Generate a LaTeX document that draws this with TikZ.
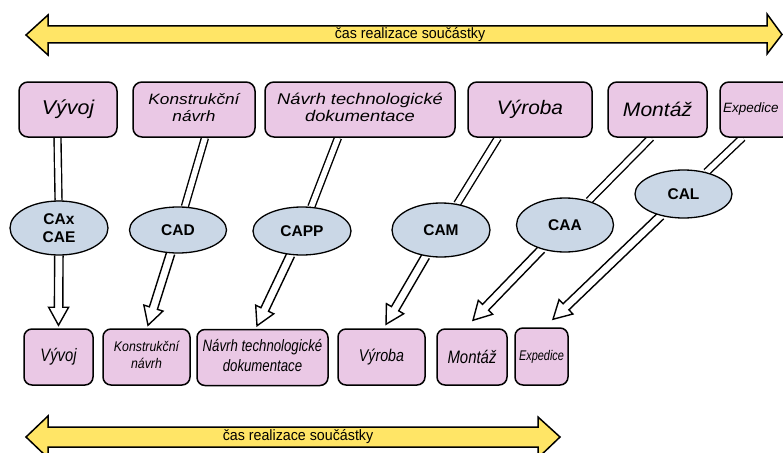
\documentclass[tikz,border=0pt]{standalone}
\usepackage{fontspec}
\setmainfont{Liberation Sans}
\usepackage{graphicx}
\usetikzlibrary{shapes.geometric,calc}
\definecolor{boxpink}{RGB}{234,200,229}
\definecolor{ellblue}{RGB}{202,215,230}
\definecolor{bandyellow}{RGB}{255,229,102}
\pgfdeclarelayer{bg}
\pgfsetlayers{bg,main}
\newcommand\fsz[2]{\fontsize{#1}{#2}\selectfont}
\newcommand\twol[3]{\scalebox{#1}[1]{\begin{tabular}{@{}c@{}}#2\\#3\end{tabular}}}
\newcommand\onel[2]{\scalebox{#1}[1]{#2}}
\newcommand\harrow[2]{%
  \coordinate (hb) at ($(#2)!18pt!(#1)$);
  \draw[conn] ($(#1)!4.2pt!90:(#2)$) -- ($(hb)!4.2pt!90:(#2)$) -- ($(hb)!10pt!90:(#2)$) -- (#2) -- ($(hb)!10pt!-90:(#2)$) -- ($(hb)!4.2pt!-90:(#2)$) -- ($(#1)!4.2pt!-90:(#2)$);}
\tikzset{
  topbox/.style={draw=black, line width=1.5pt, fill=boxpink, rounded corners=9pt, minimum height=55pt, inner sep=0pt, align=center, font=\itshape},
  botbox/.style={draw=black, line width=1.5pt, fill=boxpink, rounded corners=8pt, minimum height=56pt, inner sep=0pt, align=center, font=\itshape},
  ell/.style={ellipse, draw=black, line width=1.3pt, fill=ellblue, inner sep=0pt, align=center, font=\bfseries\fsz{15.5}{18}},
  conn/.style={draw=black, line width=1.4pt, line join=miter},
  dbl/.style={draw=black, line width=1.4pt, double=white, double distance=5.5pt},
  band/.style={draw=black, line width=1.5pt, fill=bandyellow, line join=miter},
  bandtext/.style={inner sep=0pt, font=\fsz{15}{18}}
}
\begin{document}
\begin{tikzpicture}[x=1pt,y=-1pt]
\useasboundingbox (0,0) rectangle (783,452);
% bands
\draw[band] (26,35) -- (48,15) -- (48,26) -- (767,26) -- (767,14) -- (782,34.5) -- (767,54) -- (767,43) -- (48,43) -- (48,55) -- cycle;
\node[bandtext] (bandtop) at (410,35) {\onel{0.95}{čas realizace součástky}};
\draw[band] (26,437) -- (48,416) -- (48,427) -- (538,427) -- (538,417) -- (560,437) -- (538,458) -- (538,447) -- (48,447) -- (48,458) -- cycle;
\node[bandtext] (bandbot) at (298,437) {\onel{0.95}{čas realizace součástky}};
% top boxes
\node[topbox, minimum width=98pt] (t1) at (68,109.5) {\fsz{20}{24}\onel{1.07}{Vývoj}};
\node[topbox, minimum width=122pt] (t2) at (194,109.5) {\fsz{15}{17}\twol{1.15}{Konstrukční}{návrh}};
\node[topbox, minimum width=190pt] (t3) at (360,109.5) {\fsz{15.5}{17}\twol{1.18}{Návrh technologické}{dokumentace}};
\node[topbox, minimum width=124pt] (t4) at (530,109.5) {\fsz{19.5}{24}\onel{1.07}{Výroba}};
\node[topbox, minimum width=99pt] (t5) at (657.5,109.5) {\fsz{19.5}{24}\onel{1.08}{Montáž}};
\node[topbox, minimum width=72pt] (t6) at (756,109.5) {};
\node[inner sep=0pt, font=\itshape\fsz{13.5}{16}, anchor=west] (t6txt) at (723,109.5) {Expedice};
% ellipses
\node[ell, minimum width=98pt, minimum height=54pt] (e1) at (59,228) {CAx\\CAE};
\node[ell, minimum width=97pt, minimum height=46pt] (e2) at (178,230) {CAD};
\node[ell, minimum width=98pt, minimum height=48pt] (e3) at (302,231) {CAPP};
\node[ell, minimum width=98pt, minimum height=54pt] (e4) at (441,230) {CAM};
\node[ell, minimum width=97pt, minimum height=54pt] (e5) at (565,225) {CAA};
\node[ell, minimum width=97pt, minimum height=48pt] (e6) at (683.5,194) {CAL};
% bottom boxes
\node[botbox, minimum width=69pt] (b1) at (58.5,357) {\fsz{18}{20}\onel{0.82}{Vývoj}};
\node[botbox, minimum width=87pt] (b2) at (146.5,357) {\fsz{14}{17}\twol{0.88}{Konstrukční}{návrh}};
\node[botbox, minimum width=131pt] (b3) at (262.5,357.5) {\fsz{16.5}{19.5}\twol{0.8}{Návrh technologické}{dokumentace}};
\node[botbox, minimum width=87pt] (b4) at (381.5,357) {\fsz{17}{20}\onel{0.84}{Výroba}};
\node[botbox, minimum width=70pt] (b5) at (472,357) {\fsz{18}{20}\onel{0.83}{Montáž}};
\node[botbox, minimum width=53pt, minimum height=57pt] (b6) at (541.5,356.5) {\fsz{14}{16}\onel{0.78}{Expedice}};
% connectors
\begin{pgfonlayer}{bg}
\draw[dbl] ([xshift=-10.5pt]t1.south) -- (e1);
\draw[dbl] ([xshift=11pt]t2.south) -- (e2);
\draw[dbl] ([xshift=-22pt]t3.south) -- (e3);
\draw[dbl] ([xshift=-32pt]t4.south) -- (e4);
\draw[dbl] ([xshift=-6.5pt]t5.south) -- (e5);
\draw[dbl] ([xshift=-13.5pt]t6.south) -- (e6);
\coordinate (u1) at ([yshift=3pt]b1.north);
\coordinate (u2) at ([xshift=1.5pt,yshift=3pt]b2.north);
\coordinate (u3) at ([xshift=-5.5pt,yshift=3pt]b3.north);
\coordinate (u4) at ([xshift=4.5pt,yshift=4pt]b4.north);
\coordinate (u5) at ([xshift=1pt,yshift=8pt]b5.north);
\coordinate (u6) at ([xshift=11.5pt,yshift=8pt]b6.north);
\path (e1) -- (u1) coordinate[pos=0] (s1);
\path (e2) -- (u2) coordinate[pos=0] (s2);
\path (e3) -- (u3) coordinate[pos=0] (s3);
\path (e4) -- (u4) coordinate[pos=0] (s4);
\path (e5) -- (u5) coordinate[pos=0] (s5);
\path (e6) -- (u6) coordinate[pos=0] (s6);
\harrow{s1}{u1}
\harrow{s2}{u2}
\harrow{s3}{u3}
\harrow{s4}{u4}
\harrow{s5}{u5}
\harrow{s6}{u6}
\end{pgfonlayer}
\end{tikzpicture}
\end{document}
